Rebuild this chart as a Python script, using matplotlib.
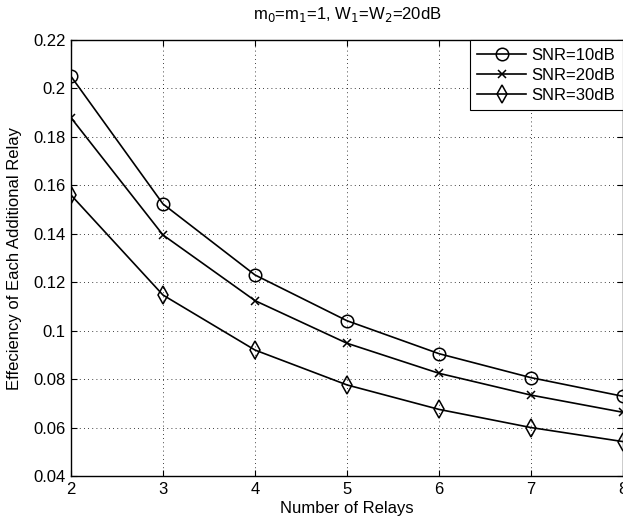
import numpy as np
import matplotlib.pyplot as plt

plt.rcParams['font.family'] = ['Liberation Sans', 'DejaVu Sans']

relays = [2, 3, 4, 5, 6, 7, 8]
snr10 = [0.205, 0.1523, 0.123, 0.1041, 0.0905, 0.0806, 0.0729]
snr20 = [0.1879, 0.1395, 0.1124, 0.0948, 0.0824, 0.0734, 0.0663]
snr30 = [0.156, 0.1147, 0.092, 0.0776, 0.0675, 0.0600, 0.0542]
labels = ['SNR=10dB', 'SNR=20dB', 'SNR=30dB']

fs = 12

fig = plt.figure(figsize=(6.23, 5.22), dpi=100)
ax = fig.add_axes([71/623, 46/522, 552/623, 436/522])

ax.plot(relays, snr10, 'k-o', mfc='none', ms=9, lw=1.2, mew=1.1, label=labels[0])
ax.plot(relays, snr20, 'k-x', ms=6, lw=1.2, mew=1.1, label=labels[1])
ax.plot(relays, snr30, 'k-d', mfc='none', ms=9, lw=1.2, mew=1.1, label=labels[2])

ax.set_xlim(2, 8)
ax.set_ylim(0.04, 0.22)
ax.set_xticks(relays)
ax.set_yticks(np.arange(0.04, 0.2201, 0.02))
ax.set_yticklabels(['0.04', '0.06', '0.08', '0.1', '0.12', '0.14', '0.16', '0.18', '0.2', '0.22'])
ax.grid(True, color='k', linestyle=(0, (1, 4)), lw=0.6)
ax.tick_params(direction='in', top=True, right=True, labelsize=fs, length=4, pad=4)
for s in ax.spines.values():
    s.set_linewidth(1.0)

ax.set_xlabel('Number of Relays', fontsize=fs, labelpad=3)
ax.set_ylabel('Effeciency of Each Additional Relay', fontsize=fs, labelpad=8)
ax.set_title('m$_0$=m$_1$=1, W$_1$=W$_2$=20dB', fontsize=fs, pad=15)

leg = ax.legend(loc='upper right', fontsize=fs, handlelength=2.9, borderaxespad=0,
                fancybox=False, edgecolor='k', framealpha=1, labelspacing=0.3,
                borderpad=0.45, handletextpad=0.35)
leg.get_frame().set_linewidth(0.8)

fig.savefig('out.png', dpi=100)
